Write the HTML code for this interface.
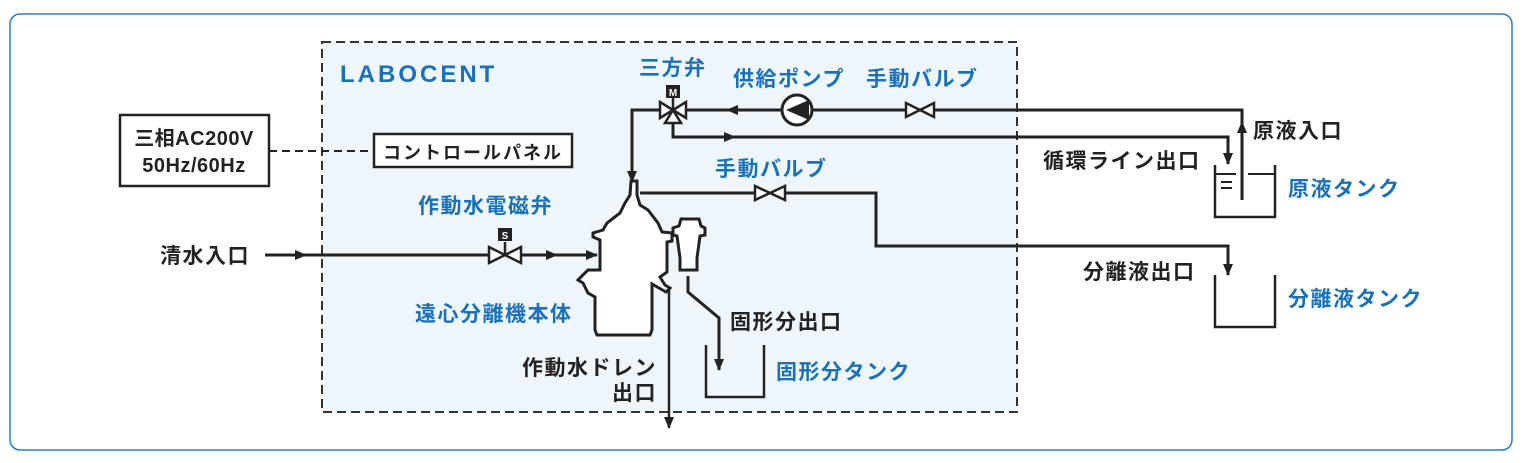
<!DOCTYPE html>
<html><head><meta charset="utf-8"><style>
html,body{margin:0;padding:0;background:#fff;}
svg{display:block;}
text{font-family:"Liberation Sans","Noto Sans CJK JP",sans-serif;font-weight:bold;}
.b{fill:#1a71b8;font-size:21px;letter-spacing:1.5px;}
.k{fill:#222;font-size:21px;letter-spacing:1.5px;}
</style></head><body>
<svg width="1537" height="463" viewBox="0 0 1537 463" xmlns="http://www.w3.org/2000/svg">
<defs>
<marker id="ar" markerWidth="14" markerHeight="14" refX="11" refY="6" orient="auto" markerUnits="userSpaceOnUse">
<path d="M0,1 L12,6 L0,11 Z" fill="#222"/></marker>
</defs>
<rect x="10" y="14" width="1502" height="436" rx="10" fill="#fff" stroke="#2a7bbf" stroke-width="1.5"/>
<rect x="322" y="42" width="695" height="370" fill="#eef6fc" stroke="#333" stroke-width="2" stroke-dasharray="9,5"/>
<text x="340" y="82" fill="#1a71b8" style="font-size:24px;letter-spacing:3px">LABOCENT</text>

<g stroke="#222" stroke-width="3" fill="none">
<polyline points="684,110 1242,110 1242,200"/>
<line x1="1242" y1="160" x2="1242" y2="122" marker-end="url(#ar)"/>
<line x1="760" y1="110" x2="727" y2="110" marker-end="url(#ar)"/>
<polyline points="673,120 673,137 1228,137 1228,160"/>
<line x1="700" y1="137" x2="735" y2="137" marker-end="url(#ar)"/>
<polyline points="662,110 632,110 632,178"/>
<line x1="632" y1="150" x2="632" y2="182" marker-end="url(#ar)"/>
<line x1="1228" y1="145" x2="1228" y2="164" marker-end="url(#ar)"/>
<polyline points="640,193 876,193 876,246 1228,246 1228,270"/>
<line x1="1228" y1="255" x2="1228" y2="275" marker-end="url(#ar)"/>
<line x1="265" y1="255" x2="592" y2="255"/>
<line x1="280" y1="255" x2="306" y2="255" marker-end="url(#ar)"/>
<line x1="530" y1="255" x2="557" y2="255" marker-end="url(#ar)"/>
<line x1="570" y1="255" x2="597" y2="255" marker-end="url(#ar)"/>
<line x1="669" y1="288" x2="669" y2="428" stroke-width="2.5" marker-end="url(#ar)"/>
<polyline points="688,276 688,292 719,318 719,362"/>
<line x1="719" y1="340" x2="719" y2="370" marker-end="url(#ar)"/>
<polyline points="1215,165 1215,217 1275,217 1275,165" stroke-width="2.5"/>
<line x1="1215" y1="174" x2="1236" y2="174" stroke-width="2"/>
<line x1="1248" y1="174" x2="1275" y2="174" stroke-width="2"/>
<line x1="1221" y1="182" x2="1232" y2="182" stroke-width="2"/>
<line x1="1221" y1="188" x2="1232" y2="188" stroke-width="2"/>
<polyline points="1215,275 1215,327 1275,327 1275,275" stroke-width="2.5"/>
<polyline points="706,345 706,397 764,397 764,345" stroke-width="2.5"/>
<rect x="120" y="115" width="149" height="71" stroke-width="2.5" fill="#fff"/>
<line x1="269" y1="151" x2="374" y2="151" stroke-width="2" stroke-dasharray="8,5"/>
<rect x="374" y="134" width="198" height="33" stroke-width="2.5" fill="#fff"/>
</g>

<g stroke="#222" stroke-width="2.5" fill="#fff">
<path d="M906,103 L906,117 L934,103 L934,117 Z"/>
<path d="M755,186 L755,200 L785,186 L785,200 Z"/>
<path d="M489,247 L489,263 L521,247 L521,263 Z"/>
<line x1="505" y1="255" x2="505" y2="242"/>
<path d="M660,102 L660,118 L673,110 Z M686,102 L686,118 L673,110 Z M665,123 L681,123 L673,110 Z"/>
<line x1="673" y1="110" x2="673" y2="98"/>
<circle cx="797" cy="110" r="15" stroke-width="3"/>
</g>
<path d="M809,100 L786,110 L809,120 Z" fill="#222"/>
<rect x="498" y="228" width="14" height="13" fill="#222"/>
<text x="505" y="239" fill="#fff" style="font-size:10px" text-anchor="middle">S</text>
<rect x="666" y="85" width="14" height="13" fill="#222"/>
<text x="673" y="96" fill="#fff" style="font-size:10px" text-anchor="middle">M</text>

<g stroke="#222" stroke-width="3" fill="#fff">
<path d="M631,181 L637,181 L637,195 L640,205 L648,210 L658,223 L662,232 L672,233 L672,241 L667,242 L667,272 L660,277 L665,285 L670,288 L666,292 L652,284 L652,330 L650,335 L597,335 L595,330 L595,297 L588,293 L583,283 L578,280 L588,270 L600,270 L600,240 L593,237 L593,233 L603,230 L607,223 L620,213 L625,203 L630,195 Z"/>
<path d="M681,219 L699,219 L701,226 L705,228 L705,235 L700,236 L697,258 L697,270 L680,270 L680,258 L677,236 L673,235 L673,228 L679,226 Z"/>
</g>

<text class="b" x="639" y="75">三方弁</text>
<text class="b" x="733" y="86">供給ポンプ</text>
<text class="b" x="866" y="86">手動バルブ</text>
<text class="k" x="1253" y="138">原液入口</text>
<text class="k" x="1043" y="168">循環ライン出口</text>
<text class="b" x="1288" y="196">原液タンク</text>
<text class="b" x="715" y="176">手動バルブ</text>
<text class="b" x="418" y="213">作動水電磁弁</text>
<text class="k" x="160" y="263">清水入口</text>
<text class="b" x="415" y="321">遠心分離機本体</text>
<text class="k" x="730" y="329">固形分出口</text>
<text class="k" x="522" y="375">作動水ドレン</text>
<text class="k" x="612" y="400">出口</text>
<text class="b" x="776" y="379">固形分タンク</text>
<text class="k" x="1083" y="279">分離液出口</text>
<text class="b" x="1288" y="306">分離液タンク</text>
<text class="k" x="194" y="145" text-anchor="middle" style="font-size:20px;letter-spacing:0.5px">三相AC200V</text>
<text class="k" x="194" y="172" text-anchor="middle" style="font-size:20px;letter-spacing:0.5px">50Hz/60Hz</text>
<text class="k" x="473" y="159" text-anchor="middle" style="font-size:18px;letter-spacing:2px">コントロールパネル</text>
</svg>
</body></html>
